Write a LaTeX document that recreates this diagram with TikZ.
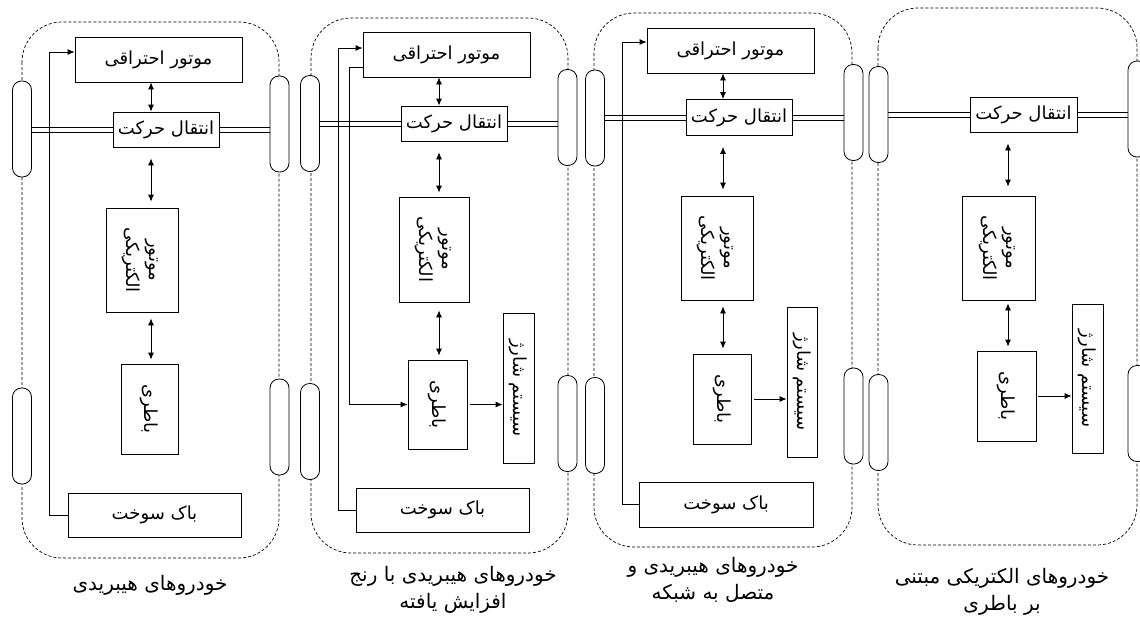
\documentclass[tikz,border=0pt]{standalone}
\usepackage{fontspec}
\usepackage{graphicx}
\usepackage{tikz}
\usetikzlibrary{arrows.meta}
\newfontfamily\arabicfont[Script=Arabic]{DejaVu Sans}
\TeXXeTstate=1
\newcommand{\fatext}[1]{\beginR#1\endR}
\newcommand{\twolines}[2]{\begin{tabular}{@{}c@{}}\fatext{#1}\\[3pt]\fatext{#2}\end{tabular}}

\begin{document}
\begin{tikzpicture}[x=1pt,y=-1pt,>={Latex[length=7pt,width=6pt]},
  box/.style={draw,line width=0.8pt,inner sep=0pt,font=\arabicfont\fontsize{18}{20}\selectfont},
  wheel/.style={draw,fill=white,line width=0.8pt,rounded corners=9pt,minimum width=19pt,minimum height=96pt,inner sep=0pt},
  body/.style={draw,dash pattern=on 3pt off 2pt,line width=0.7pt,rounded corners=40pt},
  axle/.style={line width=0.8pt},
  link/.style={<->,line width=0.8pt},
  feed/.style={->,line width=0.8pt},
  caption/.style={align=center,font=\arabicfont\fontsize{20}{27}\selectfont}]
\clip (0,0) rectangle (1140,619);

% car bodies
\draw[body] (22,22) rectangle (279,558);
\draw[body] (311,18) rectangle (568,553);
\draw[body] (594,13) rectangle (852,547);
\draw[body] (878,8) rectangle (1137,545);

% wheels
\node[wheel] (w1a) at (22,129) {};
\node[wheel] (w1b) at (279.5,124) {};
\node[wheel] (w1c) at (22,436) {};
\node[wheel] (w1d) at (279.5,427) {};
\node[wheel] (w2a) at (310,123.5) {};
\node[wheel] (w2b) at (567.5,117.5) {};
\node[wheel] (w2c) at (310,431.5) {};
\node[wheel] (w2d) at (567.5,423.5) {};
\node[wheel] (w3a) at (595,118) {};
\node[wheel] (w3b) at (853.5,112.5) {};
\node[wheel] (w3c) at (595,425.5) {};
\node[wheel] (w3d) at (853.5,416) {};
\node[wheel] (w4a) at (878.5,114.5) {};
\node[wheel] (w4b) at (1137.5,109) {};
\node[wheel] (w4c) at (878.5,422.5) {};
\node[wheel] (w4d) at (1137.5,413.5) {};

% hybrid
\node[box,minimum width=167pt,minimum height=45pt] (e1) at (158.5,59.5) {\fatext{موتور احتراقی}};
\node[box,minimum width=106pt,minimum height=35pt] (t1) at (166,129.5) {\fatext{انتقال حرکت}};
\node[box,minimum width=72pt,minimum height=104pt] (m1) at (142,260) {\rotatebox{-90}{\twolines{موتور}{الکتریکی}}};
\node[box,minimum width=57pt,minimum height=90pt] (b1) at (149.5,409) {\rotatebox{-90}{\fatext{باطری}}};
\node[box,minimum width=173pt,minimum height=44pt] (f1) at (154.5,515) {\fatext{باک سوخت}};
\node[caption] (l1) at (150,585) {\fatext{خودروهای هیبریدی}};
\coordinate (x1) at (151,0);
\coordinate (k1) at (49,52);
\foreach \s in {-2.4,2.4}{
  \draw[axle] ([yshift=\s pt]t1.west) -- ([yshift=\s pt]t1.west -| w1a.east);
  \draw[axle] ([yshift=\s pt]t1.east) -- ([yshift=\s pt]t1.east -| w1b.west);
}
\draw[link] (e1.south -| x1) -- (t1.north -| x1);
\draw[link,shorten <=11pt,shorten >=6pt] (t1.south -| x1) -- (m1.north -| x1);
\draw[link,shorten <=6pt,shorten >=4pt] (m1.south -| x1) -- (b1.north -| x1);
\draw[feed] (f1.west) -| (k1) -- (k1 -| e1.west);

% range extended hybrid
\node[box,minimum width=167pt,minimum height=45pt] (e2) at (446.5,54.5) {\fatext{موتور احتراقی}};
\node[box,minimum width=106pt,minimum height=35pt] (t2) at (454,123.5) {\fatext{انتقال حرکت}};
\node[box,minimum width=70pt,minimum height=105pt] (m2) at (434.5,249.5) {\rotatebox{-90}{\twolines{موتور}{الکتریکی}}};
\node[box,minimum width=59pt,minimum height=89pt] (b2) at (437.5,404.5) {\rotatebox{-90}{\fatext{باطری}}};
\node[box,minimum width=31pt,minimum height=150pt] (c2) at (518.5,388) {\rotatebox{-90}{\fatext{سیستم شارژ}}};
\node[box,minimum width=173pt,minimum height=44pt] (f2) at (442.5,510) {\fatext{باک سوخت}};
\node[caption] (l2) at (453,590) {\fatext{خودروهای هیبریدی با رنج}\\\fatext{افزایش یافته}};
\coordinate (x2) at (439,0);
\coordinate (k2) at (338,48);
\coordinate (g2) at (349,67);
\foreach \s in {-2.4,2.4}{
  \draw[axle] ([yshift=\s pt]t2.west) -- ([yshift=\s pt]t2.west -| w2a.east);
  \draw[axle] ([yshift=\s pt]t2.east) -- ([yshift=\s pt]t2.east -| w2b.west);
}
\draw[link] (e2.south -| x2) -- (t2.north -| x2);
\draw[link,shorten <=11pt,shorten >=4pt] (t2.south -| x2) -- (m2.north -| x2);
\draw[link,shorten <=8pt,shorten >=4pt] (m2.south -| x2) -- (b2.north -| x2);
\draw[feed] (f2.west) -| (k2) -- (k2 -| e2.west);
\draw[feed] (g2 -| e2.west) -- (g2) |- (b2.west);
\draw[feed,shorten <=3pt] (b2.east) -- (b2.east -| c2.west);

% plug-in hybrid
\node[box,minimum width=167pt,minimum height=45pt] (e3) at (730.5,50.5) {\fatext{موتور احتراقی}};
\node[box,minimum width=106pt,minimum height=36pt] (t3) at (739,117.5) {\fatext{انتقال حرکت}};
\node[box,minimum width=72pt,minimum height=104pt] (m3) at (717,248) {\rotatebox{-90}{\twolines{موتور}{الکتریکی}}};
\node[box,minimum width=58pt,minimum height=90pt] (b3) at (722,399) {\rotatebox{-90}{\fatext{باطری}}};
\node[box,minimum width=30pt,minimum height=150pt] (c3) at (802,382) {\rotatebox{-90}{\fatext{سیستم شارژ}}};
\node[box,minimum width=174pt,minimum height=45pt] (f3) at (726,504.5) {\fatext{باک سوخت}};
\node[caption] (l3) at (713,580) {\fatext{خودروهای هیبریدی و}\\\fatext{متصل به شبکه}};
\coordinate (x3) at (723,0);
\coordinate (k3) at (622,42);
\foreach \s in {-2.4,2.4}{
  \draw[axle] ([yshift=\s pt]t3.west) -- ([yshift=\s pt]t3.west -| w3a.east);
  \draw[axle] ([yshift=\s pt]t3.east) -- ([yshift=\s pt]t3.east -| w3b.west);
}
\draw[link] (e3.south -| x3) -- (t3.north -| x3);
\draw[link,shorten <=11pt,shorten >=6pt] (t3.south -| x3) -- (m3.north -| x3);
\draw[link,shorten <=6pt,shorten >=5pt] (m3.south -| x3) -- (b3.north -| x3);
\draw[feed] (f3.west) -| (k3) -- (k3 -| e3.west);
\draw[feed,shorten <=3pt] (b3.east) -- (b3.east -| c3.west);

% battery electric
\node[box,minimum width=107pt,minimum height=35pt] (t4) at (1023.5,114.5) {\fatext{انتقال حرکت}};
\node[box,minimum width=73pt,minimum height=104pt] (m4) at (998.5,248) {\rotatebox{-90}{\twolines{موتور}{الکتریکی}}};
\node[box,minimum width=59pt,minimum height=90pt] (b4) at (1006.5,396) {\rotatebox{-90}{\fatext{باطری}}};
\node[box,minimum width=31pt,minimum height=149pt] (c4) at (1087.5,378.5) {\rotatebox{-90}{\fatext{سیستم شارژ}}};
\node[caption] (l4) at (1002,592) {\fatext{خودروهای الکتریکی مبتنی}\\\fatext{بر باطری}};
\coordinate (x4) at (1008,0);
\foreach \s in {-2.4,2.4}{
  \draw[axle] ([yshift=\s pt]t4.west) -- ([yshift=\s pt]t4.west -| w4a.east);
  \draw[axle] ([yshift=\s pt]t4.east) -- ([yshift=\s pt]t4.east -| w4b.west);
}
\draw[link,shorten <=11pt,shorten >=9pt] (t4.south -| x4) -- (m4.north -| x4);
\draw[link,shorten <=3pt,shorten >=4pt] (m4.south -| x4) -- (b4.north -| x4);
\draw[feed,shorten <=2pt] (b4.east) -- (b4.east -| c4.west);
\end{tikzpicture}
\end{document}
